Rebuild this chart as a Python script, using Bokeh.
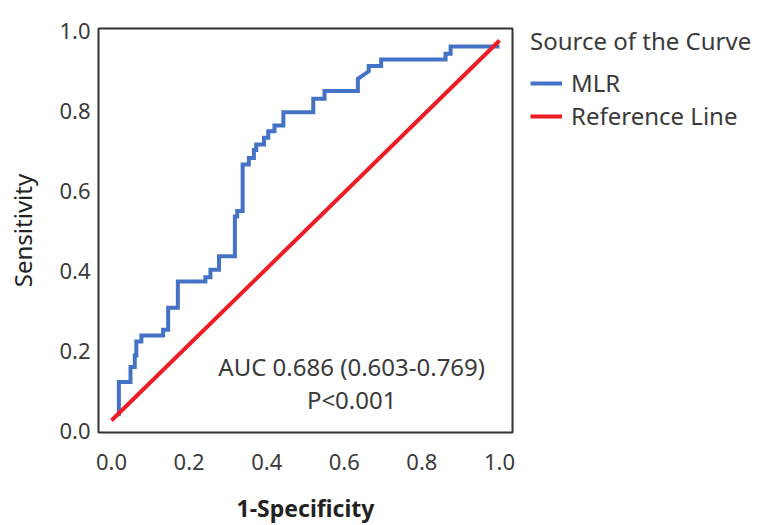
from bokeh.plotting import figure
from bokeh.models import Range1d, Legend, LegendItem, Label, NumeralTickFormatter, FixedTicker, LinearAxis
from bokeh.embed import file_html
from bokeh.resources import INLINE

# ROC curve of the MLR model (1-Specificity, Sensitivity)
fpr = [0.019, 0.019, 0.049, 0.049, 0.060, 0.060, 0.064, 0.064, 0.077, 0.077,
       0.133, 0.133, 0.146, 0.146, 0.171, 0.171, 0.242, 0.242, 0.255, 0.255,
       0.277, 0.277, 0.318, 0.318, 0.324, 0.324, 0.338, 0.338, 0.354, 0.354,
       0.367, 0.367, 0.373, 0.373, 0.393, 0.393, 0.404, 0.404, 0.420, 0.420,
       0.443, 0.443, 0.520, 0.520, 0.549, 0.549, 0.635, 0.635, 0.663, 0.663,
       0.695, 0.695, 0.861, 0.861, 0.874, 0.874, 1.000]
tpr = [0.011, 0.101, 0.101, 0.141, 0.141, 0.171, 0.171, 0.208, 0.208, 0.224,
       0.224, 0.239, 0.239, 0.297, 0.297, 0.366, 0.366, 0.377, 0.377, 0.397,
       0.397, 0.432, 0.432, 0.537, 0.537, 0.551, 0.551, 0.674, 0.674, 0.691,
       0.691, 0.712, 0.712, 0.726, 0.726, 0.744, 0.744, 0.761, 0.761, 0.776,
       0.776, 0.811, 0.811, 0.847, 0.847, 0.867, 0.867, 0.899, 0.919, 0.933,
       0.933, 0.950, 0.950, 0.965, 0.965, 0.984, 0.984]

ref_x = [0.0, 1.0]
ref_y = [0.0, 1.0]

tick_values = [0.0, 0.2, 0.4, 0.6, 0.8, 1.0]
series_names = ["MLR", "Reference Line"]
legend_title = "Source of the Curve"
auc_text = "AUC 0.686 (0.603-0.769)"
p_text = "P<0.001"
x_title = "1-Specificity"
y_title = "Sensitivity"

FONT = "Noto Sans Light, Noto Sans"
BOLD_FONT = "Noto Sans"
TXT = "#3a3a3a"

p = figure(frame_width=414, frame_height=404, output_backend="svg", toolbar_location=None,
           x_range=Range1d(-0.0335, 1.0335), y_range=Range1d(-0.0316, 1.0316),
           min_border_left=98, min_border_right=244, min_border_top=28, min_border_bottom=92)

# the printed sensitivity scale sits slightly lower than the plotted data in the source figure
p.extra_y_ranges = {"labels": Range1d(-0.0025, 1.005)}
p.yaxis.visible = False
yax = LinearAxis(y_range_name="labels")
p.add_layout(yax, "left")

p.grid.visible = False
p.outline_line_color = "#333333"
p.outline_line_width = 2
p.background_fill_color = "white"
p.border_fill_color = "white"

for ax in (p.xaxis[0], yax):
    ax.ticker = FixedTicker(ticks=tick_values)
    ax.formatter = NumeralTickFormatter(format="0.0")
    ax.axis_line_color = None
    ax.major_tick_line_color = None
    ax.minor_tick_line_color = None
    ax.major_tick_out = 0
    ax.major_tick_in = 0
    ax.minor_tick_out = 0
    ax.minor_tick_in = 0
    ax.major_label_text_font = FONT
    ax.major_label_text_font_size = "22px"
    ax.major_label_text_color = TXT
    ax.axis_label_text_color = "#222222"

yax.major_label_standoff = 8
p.xaxis.major_label_standoff = 21
yax.axis_label = y_title
yax.axis_label_text_font = FONT
yax.axis_label_text_font_size = "24px"
yax.axis_label_text_font_style = "normal"
yax.axis_label_standoff = 17
p.xaxis.axis_label = x_title
p.xaxis.axis_label_text_font = BOLD_FONT
p.xaxis.axis_label_text_font_size = "23px"
p.xaxis.axis_label_text_font_style = "bold"
p.xaxis.axis_label_standoff = 19

r_mlr = p.line(fpr, tpr, line_color="#4472C4", line_width=4, line_join="miter")
r_ref = p.line(ref_x, ref_y, line_color="#EE1C25", line_width=4)

legend = Legend(items=[LegendItem(label=series_names[0], renderers=[r_mlr]),
                       LegendItem(label=series_names[1], renderers=[r_ref])],
                location=(18, 300), title=legend_title,
                title_text_font=FONT, title_text_font_size="24px", title_text_color=TXT,
                title_text_font_style="normal", title_standoff=9,
                label_text_font=FONT, label_text_font_size="24px", label_text_color=TXT,
                label_text_line_height=0.9,
                glyph_width=32, label_standoff=9, spacing=-3, padding=0, margin=0,
                border_line_color=None, background_fill_alpha=0)
p.add_layout(legend, "right")

p.add_layout(Label(x=0.619, y=0.142, text=auc_text, text_align="center", text_baseline="middle",
                   text_font=FONT, text_font_size="24px", text_color=TXT))
p.add_layout(Label(x=0.619, y=0.055, text=p_text, text_align="center", text_baseline="middle",
                   text_font=FONT, text_font_size="24px", text_color=TXT))

open("out.html", "w").write(file_html(p, INLINE))
